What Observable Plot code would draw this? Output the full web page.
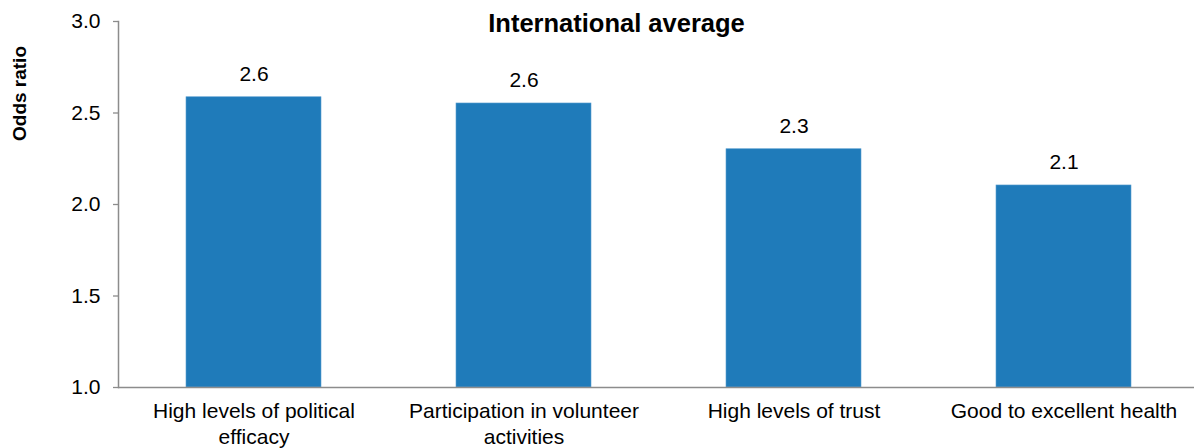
<!DOCTYPE html>
<html>
<head>
<meta charset="utf-8">
<script src="https://cdn.jsdelivr.net/npm/d3@7"></script>
<script src="https://cdn.jsdelivr.net/npm/@observablehq/plot@0.6"></script>
<style>
  html, body { margin: 0; padding: 0; background: #fff; overflow: hidden; }
  #chart svg { display: block; }
</style>
</head>
<body>
<div id="chart"></div>
<script>
const categories = [
  "High levels of political efficacy",
  "Participation in volunteer activities",
  "High levels of trust",
  "Good to excellent health"
];
const tickLabels = [
  "High levels of political\nefficacy",
  "Participation in volunteer\nactivities",
  "High levels of trust",
  "Good to excellent health"
];
const values = [2.586, 2.552, 2.302, 2.104];
const yTicks = [1.0, 1.5, 2.0, 2.5, 3.0];
const title = "International average";
const yLabel = "Odds ratio";

const data = categories.map((c, i) => ({category: c, value: values[i]}));
const labelOf = new Map(categories.map((c, i) => [c, tickLabels[i]]));

const font = "'Liberation Sans', Arial, sans-serif";
const axisColor = "#8c8c8c";

const chart = Plot.plot({
  width: 1194,
  height: 448,
  marginTop: 21,
  marginLeft: 118,
  marginRight: 0,
  marginBottom: 61,
  style: {fontFamily: font, fontSize: "21px", color: "#000", background: "#fff"},
  x: {domain: categories, range: [118, 1199], paddingInner: 0.5, paddingOuter: 0.25, label: null},
  y: {domain: [1, 3], label: null},
  marks: [
    Plot.barY(data, {x: "category", y1: 1, y2: "value", fill: "#1f7bba", stroke: "#5a9fd0", strokeWidth: 0.6}),
    Plot.text(data, {x: "category", y: "value", text: d => d3.format(".1f")(d.value), dy: -23, fontSize: 21, fill: "#000"}),
    Plot.axisY({ticks: yTicks, tickFormat: d3.format(".1f"), tickSize: 5, tickPadding: 13, stroke: axisColor, strokeWidth: 1.3, fill: "#000", fontSize: 21, label: null}),
    Plot.frame({anchor: "left", stroke: axisColor, strokeWidth: 1.5}),
    Plot.ruleY([1], {stroke: axisColor, strokeWidth: 1.5}),
    Plot.axisX({tickSize: 0, tickPadding: 13, tickFormat: d => labelOf.get(d), fill: "#000", fontSize: 21, lineHeight: 1.2, label: null}),
    Plot.text([title], {frameAnchor: "top", textAnchor: "middle", lineAnchor: "middle", dx: -40, dy: 2.5, fontWeight: "bold", fontSize: 25.5, fill: "#000"}),
    Plot.text([yLabel], {frameAnchor: "top-left", textAnchor: "middle", lineAnchor: "middle", dx: -99, dy: 72, rotate: -90, fontWeight: "bold", fontSize: 19, fill: "#000"})
  ]
});
document.getElementById("chart").appendChild(chart);
</script>
</body>
</html>
